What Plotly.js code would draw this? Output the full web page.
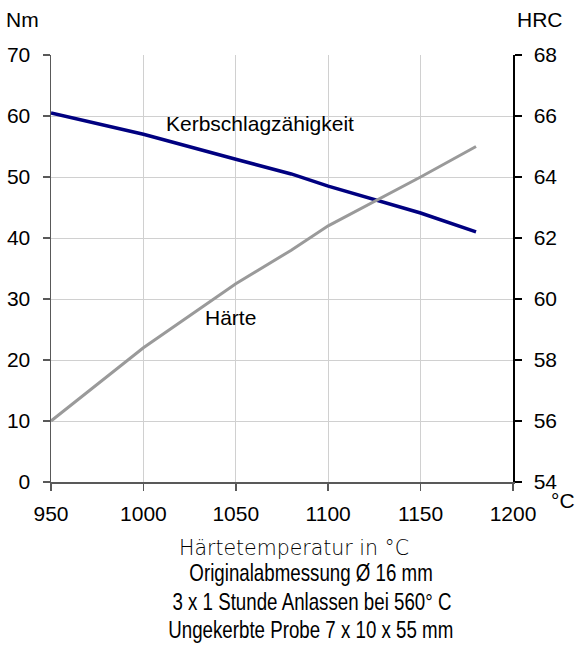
<!DOCTYPE html>
<html>
<head>
<meta charset="utf-8">
<script src="https://cdn.plot.ly/plotly-3.0.1.min.js"></script>
<style>html,body{margin:0;padding:0;background:#fff;}#chart{width:577px;height:646px;}</style>
</head>
<body>
<div id="chart"></div>
<script>
// Härtetemperatur in °C
const temperaturKerb = [950, 1000, 1050, 1080, 1100, 1150, 1180];
// Kerbschlagzähigkeit in Nm (left axis)
const kerbschlag = [60.5, 57.0, 52.9, 50.5, 48.5, 44.1, 41.0];
const temperaturHaerte = [950, 1000, 1050, 1080, 1100, 1150, 1180];
// Härte in HRC (right axis)
const haerte = [56.0, 58.4, 60.5, 61.6, 62.4, 64.0, 65.0];

const xTicks = [950, 1000, 1050, 1100, 1150, 1200];
const yTicksNm = [0, 10, 20, 30, 40, 50, 60, 70];
const yTicksHRC = [54, 56, 58, 60, 62, 64, 66, 68];

const noteLines = ['Originalabmessung Ø 16 mm', '3 x 1 Stunde Anlassen bei 560° C', 'Ungekerbte Probe 7 x 10 x 55 mm'];

const arial = 'Liberation Sans, Arial, sans-serif';
const condensedFamily = 'Liberation Sans, Arial, sans-serif';

const traces = [
  {x: temperaturKerb, y: kerbschlag, type: 'scatter', mode: 'lines', yaxis: 'y',
   line: {color: '#000080', width: 3.5}, hoverinfo: 'skip'},
  {x: temperaturHaerte, y: haerte, type: 'scatter', mode: 'lines', yaxis: 'y2',
   line: {color: '#9a9a9a', width: 3}, hoverinfo: 'skip'}
];

const tickFont = {family: arial, size: 21, color: '#000'};
const labelFont = {family: arial, size: 21, color: '#000'};

const layout = {
  width: 577, height: 646,
  margin: {l: 51, r: 64, t: 55, b: 164},
  paper_bgcolor: '#fff', plot_bgcolor: '#fff',
  showlegend: false,
  font: {family: arial, size: 21, color: '#000'},
  xaxis: {
    range: [950, 1200], tickvals: xTicks, ticktext: xTicks.map(String),
    showgrid: true, gridcolor: '#d0d0d0', gridwidth: 1,
    showline: true, linecolor: '#595959', linewidth: 1.5,
    ticks: 'outside', ticklen: 7, tickcolor: '#595959', tickwidth: 1.5,
    zeroline: false, ticklabelstandoff: 5, tickfont: tickFont
  },
  yaxis: {
    range: [0, 70], tickvals: yTicksNm, ticktext: yTicksNm.map(String),
    showgrid: true, gridcolor: '#d0d0d0', gridwidth: 1,
    showline: true, linecolor: '#595959', linewidth: 1.5,
    ticks: 'outside', ticklen: 7, tickcolor: '#595959', tickwidth: 1.5,
    zeroline: false, ticklabelstandoff: 8, tickfont: tickFont
  },
  yaxis2: {
    range: [54, 68], tickvals: yTicksHRC, ticktext: yTicksHRC.map(String),
    overlaying: 'y', side: 'right', anchor: 'x',
    showgrid: false, zeroline: false,
    showline: true, linecolor: '#000', linewidth: 1.5,
    ticks: 'outside', ticklen: 7, tickcolor: '#000', tickwidth: 1.5,
    ticklabelstandoff: 8, tickfont: tickFont
  },
  yaxis3: {
    range: [54, 68], tickvals: yTicksHRC,
    overlaying: 'y', side: 'right', anchor: 'x',
    showgrid: false, zeroline: false, showline: false,
    ticks: 'inside', ticklen: 7, tickcolor: '#000', tickwidth: 1.5,
    showticklabels: false
  },
  annotations: [
    {text: 'Kerbschlagzähigkeit', x: 1063, y: 58.85, xref: 'x', yref: 'y', showarrow: false,
     xanchor: 'center', yanchor: 'middle', font: labelFont},
    {text: 'Härte', x: 1047, y: 26.9, xref: 'x', yref: 'y', showarrow: false,
     xanchor: 'center', yanchor: 'middle', font: labelFont},
    {text: 'Nm', x: -0.061, y: 1.082, xref: 'paper', yref: 'paper', showarrow: false,
     xanchor: 'center', yanchor: 'middle', font: labelFont},
    {text: 'HRC', x: 1.058, y: 1.082, xref: 'paper', yref: 'paper', showarrow: false,
     xanchor: 'center', yanchor: 'middle', font: labelFont},
    {text: '°C', x: 1.109, y: -0.043, xref: 'paper', yref: 'paper', showarrow: false,
     xanchor: 'center', yanchor: 'middle', font: labelFont},
    {text: 'Härtetemperatur in °C', x: 0.526, y: -0.1546, xref: 'paper', yref: 'paper', showarrow: false,
     xanchor: 'center', yanchor: 'middle', font: {family: 'DejaVu Sans, sans-serif', size: 20.5, weight: 200, color: '#000'}},
    {text: noteLines[0], x: 0.563, y: -0.213, xref: 'paper', yref: 'paper', showarrow: false,
     xanchor: 'center', yanchor: 'middle', font: {family: condensedFamily, size: 24, color: '#000'}},
    {text: noteLines[1], x: 0.565, y: -0.281, xref: 'paper', yref: 'paper', showarrow: false,
     xanchor: 'center', yanchor: 'middle', font: {family: condensedFamily, size: 24, color: '#000'}},
    {text: noteLines[2], x: 0.563, y: -0.3466, xref: 'paper', yref: 'paper', showarrow: false,
     xanchor: 'center', yanchor: 'middle', font: {family: condensedFamily, size: 24, color: '#000'}}
  ]
};

Plotly.newPlot('chart', traces, layout, {staticPlot: true, displayModeBar: false}).then(function (gd) {
  // condensed typeface look: narrow the note lines horizontally around their centres
  const squeeze = 0.78;
  gd.querySelectorAll('.annotation-text').forEach(function (t) {
    if (noteLines.indexOf(t.textContent) === -1) return;
    const bb = t.getBBox();
    const cx = bb.x + bb.width / 2;
    const prev = t.getAttribute('transform') || '';
    t.setAttribute('transform', prev + ' translate(' + cx + ',0) scale(' + squeeze + ',1) translate(' + (-cx) + ',0)');
  });
});
</script>
</body>
</html>
